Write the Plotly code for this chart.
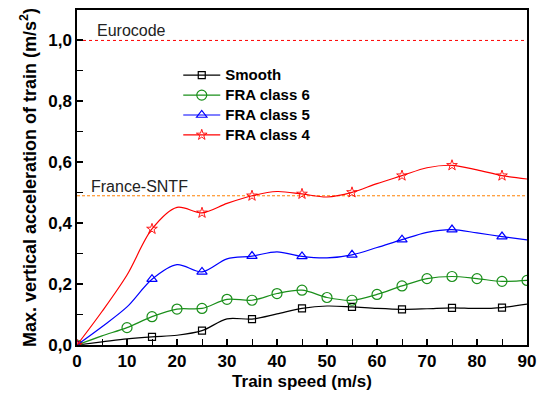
import plotly.graph_objects as go

# Train speed (m/s), sampled every 5 m/s
speed = [0, 5, 10, 15, 20, 25, 30, 35, 40, 45, 50, 55, 60, 65, 70, 75, 80, 85, 90]

# Max. vertical acceleration of train (m/s^2)
smooth = [0.0, 0.010, 0.020, 0.027, 0.032, 0.047, 0.086, 0.085, 0.102, 0.120, 0.128, 0.125,
          0.120, 0.117, 0.119, 0.122, 0.120, 0.123, 0.134]
fra6 = [0.0, 0.030, 0.057, 0.093, 0.118, 0.120, 0.150, 0.147, 0.169, 0.180, 0.156, 0.147,
        0.166, 0.194, 0.218, 0.225, 0.218, 0.209, 0.212]
fra5 = [0.0, 0.060, 0.125, 0.216, 0.264, 0.240, 0.283, 0.292, 0.306, 0.291, 0.286, 0.296,
        0.320, 0.346, 0.370, 0.379, 0.368, 0.356, 0.345]
fra4 = [0.0, 0.110, 0.230, 0.381, 0.452, 0.434, 0.465, 0.490, 0.504, 0.496, 0.486, 0.501,
        0.530, 0.556, 0.582, 0.590, 0.575, 0.556, 0.545]

# Speeds carrying a marker for each series
marked_sparse = [0, 15, 25, 35, 45, 55, 65, 75, 85]
marked_dense = [0, 10, 15, 20, 25, 30, 35, 40, 45, 50, 55, 60, 65, 70, 75, 80, 85, 90]

# Comfort limits
eurocode_limit = 1.0
sntf_limit = 0.49

# name, values, colour, symbol, marker size, marker outline width, marked speeds
series = [
    ("Smooth", smooth, "#000000", "square-open", 7, 1.2, marked_sparse),
    ("FRA class 6", fra6, "#1a8f1a", "circle-open", 10, 1.2, marked_dense),
    ("FRA class 5", fra5, "#0000ff", "triangle-up-open", 9, 1.2, marked_sparse),
    ("FRA class 4", fra4, "#ff0000", "star-open", 8, 0.9, marked_sparse),
]

fig = go.Figure()

# Limit lines
fig.add_trace(go.Scatter(x=[0, 90], y=[eurocode_limit] * 2, mode="lines",
                         line=dict(color="#ff0000", width=1, dash="dot"),
                         showlegend=False, hoverinfo="skip"))
fig.add_trace(go.Scatter(x=[0, 90], y=[sntf_limit] * 2, mode="lines",
                         line=dict(color="#ff8000", width=1, dash="3px,2px"),
                         showlegend=False, hoverinfo="skip"))

for name, vals, color, symbol, size, mlw, marked in series:
    # smooth curve through all samples
    fig.add_trace(go.Scatter(x=speed, y=vals, mode="lines",
                             line=dict(color=color, width=1.2, shape="spline", smoothing=0.9),
                             showlegend=False, hoverinfo="skip"))
    mx = [s for s in speed if s in marked]
    my = [v for s, v in zip(speed, vals) if s in marked]
    fig.add_trace(go.Scatter(x=mx, y=my, mode="markers", name=name,
                             marker=dict(symbol=symbol, size=size, color=color,
                                         line=dict(color=color, width=mlw)),
                             showlegend=False))
    # legend entry combining line and marker
    fig.add_trace(go.Scatter(x=[None], y=[None], mode="lines+markers",
                             name=f'<span style="font-size:15px">{name}</span>',
                             line=dict(color=color, width=1.2),
                             marker=dict(symbol=symbol, size=size, color=color,
                                         line=dict(color=color, width=mlw))))

fig.add_annotation(x=3.5, y=eurocode_limit, xref="x", yref="y", text="Eurocode",
                   showarrow=False, xanchor="left", yanchor="bottom", yshift=-1,
                   font=dict(size=16, color="#222222"))
fig.add_annotation(x=2.3, y=sntf_limit, xref="x", yref="y", text="France-SNTF",
                   showarrow=False, xanchor="left", yanchor="bottom", yshift=-1,
                   font=dict(size=16, color="#222222"))

axis_common = dict(showline=True, linecolor="#000000", linewidth=1.5, mirror=True,
                   ticks="inside", ticklen=6, tickwidth=1.5, tickcolor="#000000",
                   showgrid=False, zeroline=False,
                   tickfont=dict(family="Liberation Sans", size=17, color="#000000", weight="bold"))

fig.update_xaxes(range=[0, 90], dtick=10, tick0=0,
                 minor=dict(ticks="inside", ticklen=6, tickwidth=1.2, dtick=5, tickcolor="#000000"),
                 title=dict(text="Train speed (m/s)", standoff=5,
                            font=dict(family="Liberation Sans", size=17, color="#000000", weight="bold")),
                 **axis_common)
fig.update_yaxes(range=[0, 1.1], dtick=0.2, tick0=0, tickformat=".1f",
                 minor=dict(ticks="inside", ticklen=6, tickwidth=1.2, dtick=0.1, tickcolor="#000000"),
                 title=dict(text="Max. vertical acceleration of train (m/s<sup>2</sup>)", standoff=7,
                            font=dict(family="Liberation Sans", size=18, color="#000000", weight="bold")),
                 **axis_common)

fig.update_layout(
    width=544, height=399,
    margin=dict(l=77, r=9, t=8, b=54),
    plot_bgcolor="#ffffff", paper_bgcolor="#ffffff",
    separators=",.",
    font=dict(family="Liberation Sans", color="#000000"),
    legend=dict(x=0.225, y=0.85, xanchor="left", yanchor="top",
                bgcolor="rgba(0,0,0,0)", itemwidth=37, tracegroupgap=0,
                font=dict(family="Liberation Sans", size=13, color="#000000", weight="bold")),
)

fig.write_html("out.html")
